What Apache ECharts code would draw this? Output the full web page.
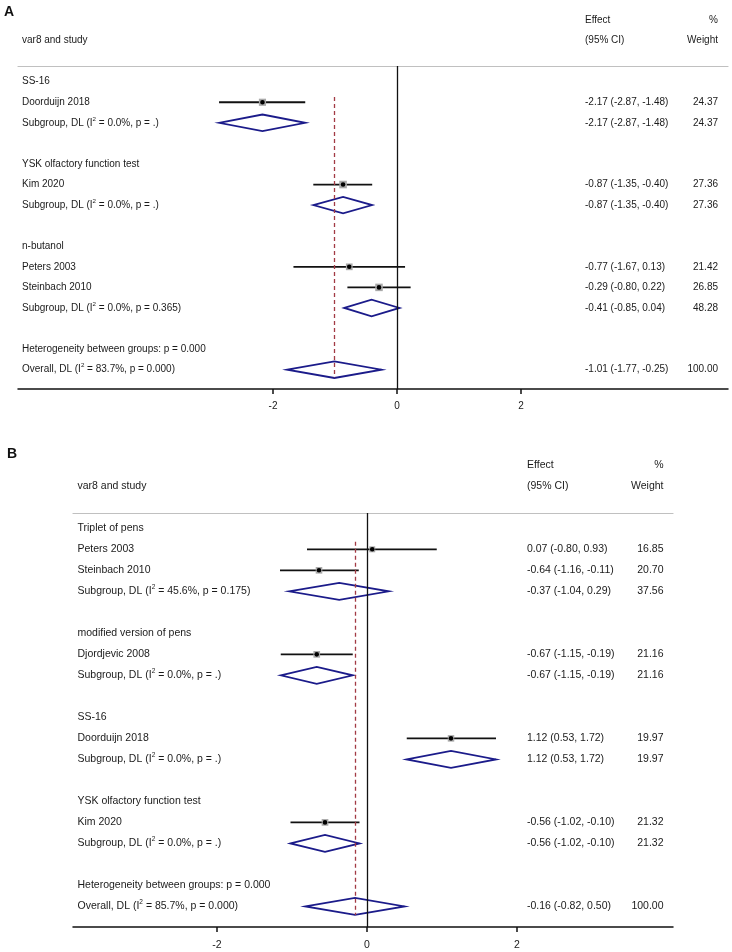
<!DOCTYPE html>
<html><head><meta charset="utf-8">
<script src="https://cdn.jsdelivr.net/npm/echarts@6/dist/echarts.min.js"></script>
<style>html,body{margin:0;padding:0;background:#fff}#c{width:732px;height:952px}</style>
</head><body><div id="c"></div>
<script>
// ---------- Panel A data ----------
const labelsA = ['SS-16','Doorduijn 2018','Subgroup, DL (I^2 = 0.0%, p = .)','',
  'YSK olfactory function test','Kim 2020','Subgroup, DL (I^2 = 0.0%, p = .)','',
  'n-butanol','Peters 2003','Steinbach 2010','Subgroup, DL (I^2 = 0.0%, p = 0.365)','',
  'Heterogeneity between groups: p = 0.000','Overall, DL (I^2 = 83.7%, p = 0.000)'];
const typeA  = ['g','s','d','', 'g','s','d','', 'g','s','s','d','', 'h','d'];
const estA   = [null,-2.17,-2.17,null, null,-0.87,-0.87,null, null,-0.77,-0.29,-0.41,null, null,-1.01];
const loA    = [null,-2.87,-2.87,null, null,-1.35,-1.35,null, null,-1.67,-0.80,-0.85,null, null,-1.77];
const hiA    = [null,-1.48,-1.48,null, null,-0.40,-0.40,null, null, 0.13, 0.22, 0.04,null, null,-0.25];
const wA     = [null,24.37,24.37,null, null,27.36,27.36,null, null,21.42,26.85,48.28,null, null,100.00];
const overallA = -1.01;
const ticksA = [-2, 0, 2];

// ---------- Panel B data ----------
const labelsB = ['Triplet of pens','Peters 2003','Steinbach 2010','Subgroup, DL (I^2 = 45.6%, p = 0.175)','',
  'modified version of pens','Djordjevic 2008','Subgroup, DL (I^2 = 0.0%, p = .)','',
  'SS-16','Doorduijn 2018','Subgroup, DL (I^2 = 0.0%, p = .)','',
  'YSK olfactory function test','Kim 2020','Subgroup, DL (I^2 = 0.0%, p = .)','',
  'Heterogeneity between groups: p = 0.000','Overall, DL (I^2 = 85.7%, p = 0.000)'];
const typeB  = ['g','s','s','d','', 'g','s','d','', 'g','s','d','', 'g','s','d','', 'h','d'];
const estB   = [null, 0.07,-0.64,-0.37,null, null,-0.67,-0.67,null, null,1.12,1.12,null, null,-0.56,-0.56,null, null,-0.16];
const loB    = [null,-0.80,-1.16,-1.04,null, null,-1.15,-1.15,null, null,0.53,0.53,null, null,-1.02,-1.02,null, null,-0.82];
const hiB    = [null, 0.93,-0.11, 0.29,null, null,-0.19,-0.19,null, null,1.72,1.72,null, null,-0.10,-0.10,null, null, 0.50];
const wB     = [null,16.85,20.70,37.56,null, null,21.16,21.16,null, null,19.97,19.97,null, null,21.32,21.32,null, null,100.00];
const overallB = -0.16;
const ticksB = [-2, 0, 2];

const headerLeft = 'var8 and study';
const headerEffect = ['Effect', '(95% CI)'];
const headerWeight = ['%', 'Weight'];

// ---------- styles ----------
const FONT = 'Liberation Sans, Arial, sans-serif';
const TXT = '#1a1a1a';
const NAVY = '#1b1b8a';
const RED = '#a23a44';

function fmt(v){ return v.toFixed(2); }
function richLabel(s){ return s.replace('I^2', 'I{s|2}'); }

function markData(type, est, lo, hi, w){
  const out = [];
  for (let k = 0; k < type.length; k++){
    if (est[k] === null) continue;
    out.push([k, est[k], lo[k], hi[k], w[k], type[k] === 'd' ? 1 : 0]);
  }
  return out;
}

function makeMarkRender(halfH){
  return function(params, api){
    const k = api.value(0), est = api.value(1), lo = api.value(2), hi = api.value(3), w = api.value(4), dia = api.value(5);
    const pL = api.coord([lo, k]), pH = api.coord([hi, k]), pE = api.coord([est, k]);
    if (dia){
      return {type:'polygon', shape:{points:[[pL[0],pL[1]],[pE[0],pE[1]-halfH],[pH[0],pH[1]],[pE[0],pE[1]+halfH]]},
        style:{fill:'none', stroke:NAVY, lineWidth:1.8}};
    }
    const s = 1.45*Math.sqrt(w);
    return {type:'group', children:[
      {type:'line', shape:{x1:pL[0],y1:pL[1],x2:pH[0],y2:pH[1]}, style:{stroke:'#111', lineWidth:1.8}},
      {type:'rect', shape:{x:pE[0]-s/2,y:pE[1]-s/2,width:s,height:s}, style:{fill:'#a9a9a9'}},
      {type:'circle', shape:{cx:pE[0],cy:pE[1],r:2.3}, style:{fill:'#000'}}
    ]};
  };
}

function makeTextRender(labels, est, lo, hi, w, xs, fs){
  return function(params, api){
    const k = api.value(0);
    const y = api.coord([0, k])[1];
    const base = {fill:TXT, fontSize:fs, fontFamily:FONT, verticalAlign:'middle', lineHeight:fs+4,
      rich:{s:{fontSize:fs*0.62, fontFamily:FONT, fill:TXT, verticalAlign:'top', lineHeight:fs*0.8}}};
    const ch = [];
    if (k === -3){
      ch.push({type:'text', x:xs.eff, y:y, style:Object.assign({}, base, {text:headerEffect[0], align:'left'})});
      ch.push({type:'text', x:xs.wt, y:y, style:Object.assign({}, base, {text:headerWeight[0], align:'right'})});
    } else if (k === -2){
      ch.push({type:'text', x:xs.lab, y:y, style:Object.assign({}, base, {text:headerLeft, align:'left'})});
      ch.push({type:'text', x:xs.eff, y:y, style:Object.assign({}, base, {text:headerEffect[1], align:'left'})});
      ch.push({type:'text', x:xs.wt, y:y, style:Object.assign({}, base, {text:headerWeight[1], align:'right'})});
    } else {
      const lab = labels[k];
      if (lab) ch.push({type:'text', x:xs.lab, y:y, style:Object.assign({}, base, {text:richLabel(lab), align:'left'})});
      if (est[k] !== null){
        ch.push({type:'text', x:xs.eff, y:y, style:Object.assign({}, base, {text:fmt(est[k])+' ('+fmt(lo[k])+', '+fmt(hi[k])+')', align:'left'})});
        ch.push({type:'text', x:xs.wt, y:y, style:Object.assign({}, base, {text:fmt(w[k]), align:'right'})});
      }
    }
    return {type:'group', children:ch};
  };
}

function textRows(n){ const r = [[-3],[-2]]; for (let k = 0; k < n; k++) r.push([k]); return r; }

function xAxes(gi, min, max, ticks, fs, margin){
  return [
    {gridIndex:gi, type:'value', min:min, max:max, position:'bottom',
      axisLine:{onZero:false, lineStyle:{color:'#111', width:1.5}},
      axisTick:{customValues:ticks, length:5, lineStyle:{color:'#111', width:1.5}},
      axisLabel:{customValues:ticks, margin:margin, fontSize:fs, fontFamily:FONT, color:TXT},
      splitLine:{show:false}},
    {gridIndex:gi, type:'value', min:min, max:max, position:'top',
      axisLine:{onZero:false, lineStyle:{color:'#c0c0c0', width:1.2}},
      axisTick:{show:false}, axisLabel:{show:false}, splitLine:{show:false}}
  ];
}

const nA = labelsA.length, nB = labelsB.length;
const option = {
  animation:false,
  backgroundColor:'#fff',
  graphic:[
    {type:'text', left:4, top:5, style:{text:'A', font:'bold 14px '+FONT, fill:'#111'}},
    {type:'text', left:7, top:447, style:{text:'B', font:'bold 14px '+FONT, fill:'#111'}}
  ],
  grid:[
    {left:18, top:66, width:710, height:323},
    {left:73, top:513, width:600, height:414}
  ],
  xAxis:[].concat(
    xAxes(0, -6.113, 5.339, ticksA, 10, 12),
    xAxes(1, -3.92, 4.08, ticksB, 10.5, 13)
  ),
  yAxis:[
    {gridIndex:0, type:'value', inverse:true, min:-0.763, max:14.94, show:false},
    {gridIndex:1, type:'value', inverse:true, min:-0.729, max:18.98, show:false}
  ],
  series:[
    {type:'line', xAxisIndex:0, yAxisIndex:0, data:[], silent:true,
      markLine:{symbol:'none', silent:true, label:{show:false}, animation:false,
        data:[
          {xAxis:0, lineStyle:{color:'#111', width:1.3, type:'solid'}},
          [{coord:[overallA, 0.75], lineStyle:{color:RED, width:1.3, type:[4,3]}}, {coord:[overallA, typeA.length-1+0.38]}]
        ]}},
    {type:'line', xAxisIndex:2, yAxisIndex:1, data:[], silent:true,
      markLine:{symbol:'none', silent:true, label:{show:false}, animation:false,
        data:[
          {xAxis:0, lineStyle:{color:'#111', width:1.3, type:'solid'}},
          [{coord:[overallB, 0.64], lineStyle:{color:RED, width:1.3, type:[4,3]}}, {coord:[overallB, typeB.length-1+0.41]}]
        ]}},
    {type:'custom', xAxisIndex:0, yAxisIndex:0, clip:false, silent:true,
      renderItem:makeMarkRender(8.3), data:markData(typeA, estA, loA, hiA, wA)},
    {type:'custom', xAxisIndex:2, yAxisIndex:1, clip:false, silent:true,
      renderItem:makeMarkRender(8.5), data:markData(typeB, estB, loB, hiB, wB)},
    {type:'custom', xAxisIndex:0, yAxisIndex:0, clip:false, silent:true,
      renderItem:makeTextRender(labelsA, estA, loA, hiA, wA, {lab:22, eff:585, wt:718}, 10),
      data:textRows(nA)},
    {type:'custom', xAxisIndex:2, yAxisIndex:1, clip:false, silent:true,
      renderItem:makeTextRender(labelsB, estB, loB, hiB, wB, {lab:77.5, eff:527, wt:663.5}, 10.5),
      data:textRows(nB)}
  ]
};
const chart = echarts.init(document.getElementById('c'), null, {renderer:'canvas'});
chart.setOption(option);
</script>
</body></html>
